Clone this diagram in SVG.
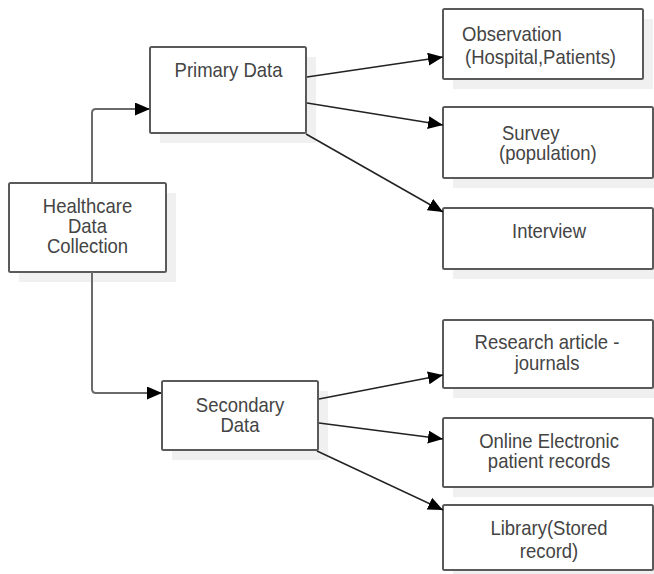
<svg xmlns="http://www.w3.org/2000/svg" width="654" height="574" viewBox="0 0 654 574">
<defs>
<style>
.shadow{fill:#f0f0f0;stroke:none}
.box{fill:#ffffff;stroke:#5a5a5a;stroke-width:2}
.t{font-family:"Liberation Sans",Arial,sans-serif;font-size:20px;fill:#444444}
.c{text-anchor:middle}
.elbow{fill:none;stroke:#6a6a6a;stroke-width:2}
.diag{fill:none;stroke:#222222;stroke-width:1.5}
</style>
<marker id="ah" markerUnits="userSpaceOnUse" markerWidth="16" markerHeight="14" refX="15" refY="6.5" orient="auto">
<path d="M0,0 L15,6.5 L0,13 Z" fill="#000000"/>
</marker>
</defs>
<rect width="654" height="574" fill="#ffffff"/>

<g id="healthcare">
<rect class="shadow" x="19" y="193" width="157" height="89"/>
<rect class="box" x="9" y="183" width="157" height="89" rx="1.5"/>
<text class="t c" transform="translate(87.5,213) scale(0.925,1)">Healthcare</text>
<text class="t c" transform="translate(87.5,233) scale(0.925,1)">Data</text>
<text class="t c" transform="translate(87.5,253) scale(0.925,1)">Collection</text>
</g>

<g id="primary">
<rect class="shadow" x="160" y="57" width="156" height="86"/>
<rect class="box" x="150" y="47" width="156" height="86" rx="1.5"/>
<text class="t c" transform="translate(228.5,77) scale(0.925,1)">Primary Data</text>
</g>

<g id="secondary">
<rect class="shadow" x="172" y="391" width="156" height="69"/>
<rect class="box" x="162" y="381" width="156" height="69" rx="1.5"/>
<text class="t c" transform="translate(240,412) scale(0.925,1)">Secondary</text>
<text class="t c" transform="translate(240,432) scale(0.925,1)">Data</text>
</g>

<g id="observation">
<rect class="shadow" x="453" y="19" width="200" height="70"/>
<rect class="box" x="443" y="9" width="200" height="70" rx="1.5"/>
<text class="t" transform="translate(462,41) scale(0.925,1)">Observation</text>
<text class="t" transform="translate(465,64) scale(0.925,1)">(Hospital,Patients)</text>
</g>

<g id="survey">
<rect class="shadow" x="453" y="117" width="210" height="71"/>
<rect class="box" x="443" y="107" width="210" height="71" rx="1.5"/>
<text class="t" transform="translate(502,140) scale(0.925,1)">Survey</text>
<text class="t" transform="translate(499,160) scale(0.925,1)">(population)</text>
</g>

<g id="interview">
<rect class="shadow" x="453" y="218" width="210" height="61"/>
<rect class="box" x="443" y="208" width="210" height="61" rx="1.5"/>
<text class="t c" transform="translate(549,238) scale(0.925,1)">Interview</text>
</g>

<g id="research">
<rect class="shadow" x="453" y="330" width="210" height="68"/>
<rect class="box" x="443" y="320" width="210" height="68" rx="1.5"/>
<text class="t c" transform="translate(547,349) scale(0.925,1)">Research article -</text>
<text class="t c" transform="translate(547,370) scale(0.925,1)">journals</text>
</g>

<g id="online">
<rect class="shadow" x="453" y="428" width="210" height="69"/>
<rect class="box" x="443" y="418" width="210" height="69" rx="1.5"/>
<text class="t c" transform="translate(549,448) scale(0.925,1)">Online Electronic</text>
<text class="t c" transform="translate(549,468) scale(0.925,1)">patient records</text>
</g>

<g id="library">
<rect class="shadow" x="453" y="515" width="210" height="65"/>
<rect class="box" x="443" y="505" width="210" height="65" rx="1.5"/>
<text class="t c" transform="translate(549,535) scale(0.925,1)">Library(Stored</text>
<text class="t c" transform="translate(549,558) scale(0.925,1)">record)</text>
</g>

<g id="connectors">
<path class="elbow" d="M92,183 V113 Q92,109 96,109 H150" marker-end="url(#ah)"/>
<path class="elbow" d="M92,272 V389 Q92,393 96,393 H162" marker-end="url(#ah)"/>
<line class="diag" x1="307" y1="77" x2="443" y2="57" marker-end="url(#ah)"/>
<line class="diag" x1="307" y1="103" x2="443" y2="125" marker-end="url(#ah)"/>
<line class="diag" x1="306" y1="134" x2="443" y2="212" marker-end="url(#ah)"/>
<line class="diag" x1="319" y1="399" x2="443" y2="375" marker-end="url(#ah)"/>
<line class="diag" x1="319" y1="423" x2="443" y2="439" marker-end="url(#ah)"/>
<line class="diag" x1="317" y1="451" x2="443" y2="510" marker-end="url(#ah)"/>
</g>
</svg>
